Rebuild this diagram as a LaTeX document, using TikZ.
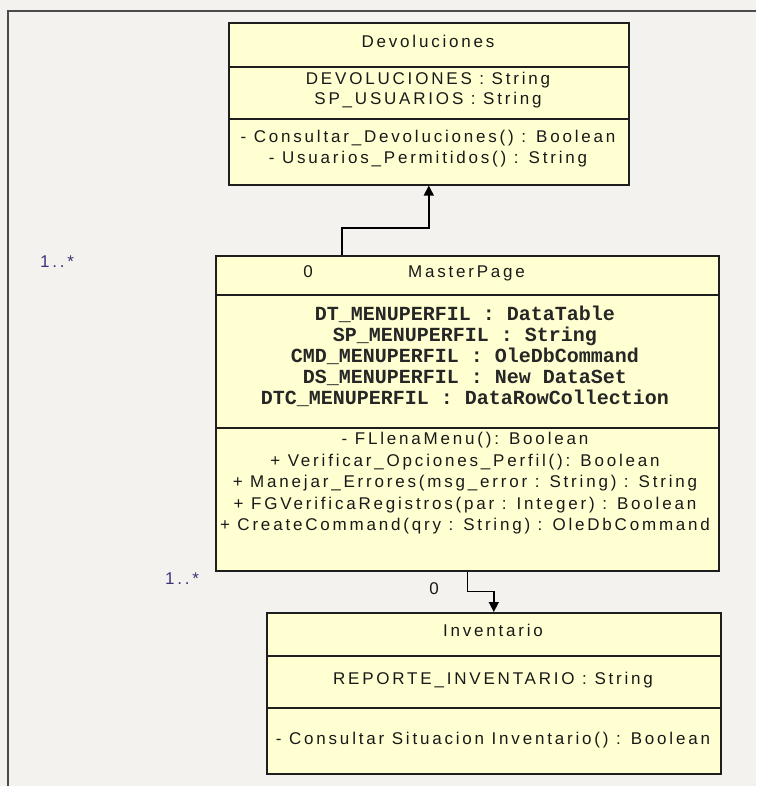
\documentclass[tikz,border=0pt]{standalone}
\usepackage{fontspec}
\setmainfont{Liberation Sans}[LetterSpace=16.5]
\setmonofont{Liberation Mono}
\usetikzlibrary{arrows.meta}

\definecolor{canvas}{HTML}{F4F2EF}
\definecolor{classfill}{HTML}{FFFFD2}
\definecolor{edgeline}{HTML}{1E1E1E}
\definecolor{framegray}{HTML}{4A4A4A}
\definecolor{multcolor}{HTML}{45307A}

\tikzset{
  classbox/.style={draw=edgeline, line width=1.6pt, fill=classfill, rectangle,
    inner sep=0pt, anchor=north west},
  divider/.style={draw=edgeline, line width=1.3pt},
  txt/.style={font=\fontsize{17}{20}\selectfont, text=black!90, inner sep=0pt, anchor=mid},
  attr/.style={font=\fontsize{20}{21}\selectfont\ttfamily\bfseries, text=black!85,
    inner sep=0pt, anchor=mid},
  mult/.style={txt, text=multcolor},
  conn/.style={draw=black, line width=1.5pt, -{Triangle[length=10pt,width=10pt]}},
  frameline/.style={draw=framegray, line width=2pt}
}

\begin{document}
\begin{tikzpicture}[x=1pt,y=-1pt]
  % canvas and diagram frame
  \fill[canvas] (0,0) rectangle (756,786);
  \useasboundingbox (0,0) rectangle (756,786);
  \draw[frameline] (8,786) -- (8,11) -- (756,11);

  % class boxes
  \node[classbox, minimum width=400pt, minimum height=162pt] (dev) at (228,22) {};
  \node[classbox, minimum width=503pt, minimum height=315pt] (mp) at (215,255) {};
  \node[classbox, minimum width=454pt, minimum height=161pt] (inv) at (266,612) {};

  % compartment dividers
  \draw[divider] (dev.west |- 0,67) -- (dev.east |- 0,67);
  \draw[divider] (dev.west |- 0,119) -- (dev.east |- 0,119);
  \draw[divider] (mp.west |- 0,295) -- (mp.east |- 0,295);
  \draw[divider] (mp.west |- 0,428) -- (mp.east |- 0,428);
  \draw[divider] (inv.west |- 0,656) -- (inv.east |- 0,656);
  \draw[divider] (inv.west |- 0,708) -- (inv.east |- 0,708);

  % Devoluciones
  \node[txt] (devname) at (428,45) {Devoluciones};
  \node[txt] (deva1) at (428,82) {DEVOLUCIONES : String};
  \node[txt] (deva2) at (428,102) {SP\_USUARIOS : String};
  \node[txt] (devo1) at (428,140) {- Consultar\_Devoluciones() : Boolean};
  \node[txt] (devo2) at (428,161) {- Usuarios\_Permitidos() : String};

  % MasterPage
  \node[txt] (mpname) at (466.5,275) {MasterPage};
  \node[txt] (mpzero) at (308,275) {0};
  \node[attr] (mpa1) at (465,318) {DT\_MENUPERFIL : DataTable};
  \node[attr] (mpa2) at (465,339) {SP\_MENUPERFIL : String};
  \node[attr] (mpa3) at (465,360) {CMD\_MENUPERFIL : OleDbCommand};
  \node[attr] (mpa4) at (465,381) {DS\_MENUPERFIL : New DataSet};
  \node[attr] (mpa5) at (465,402) {DTC\_MENUPERFIL : DataRowCollection};
  \node[txt] (mpo1) at (465,442) {- FLlenaMenu(): Boolean};
  \node[txt] (mpo2) at (465,463.5) {+ Verificar\_Opciones\_Perfil(): Boolean};
  \node[txt] (mpo3) at (465,485) {+ Manejar\_Errores(msg\_error : String) : String};
  \node[txt] (mpo4) at (465,506.5) {+ FGVerificaRegistros(par : Integer) : Boolean};
  \node[txt] (mpo5) at (465,528) {+ CreateCommand(qry : String) : OleDbCommand};

  % Inventario
  \node[txt] (invname) at (493,634) {Inventario};
  \node[txt] (inva1) at (493,682) {REPORTE\_INVENTARIO : String};
  \node[txt] (invo1) at (493,742) {- Consultar Situacion Inventario() : Boolean};

  % multiplicities
  \node[mult] (multa) at (57,265) {1..*};
  \node[mult] (multb) at (182,582) {1..*};
  \node[txt] (invzero) at (434,592) {0};

  % associations
  \draw[conn] ([xshift=-125.5pt]mp.north) -- ++(0,-27) -| (dev.south);
  \draw[conn] (mp.south) -- ++(0,20) -| (inv.north);
\end{tikzpicture}
\end{document}
